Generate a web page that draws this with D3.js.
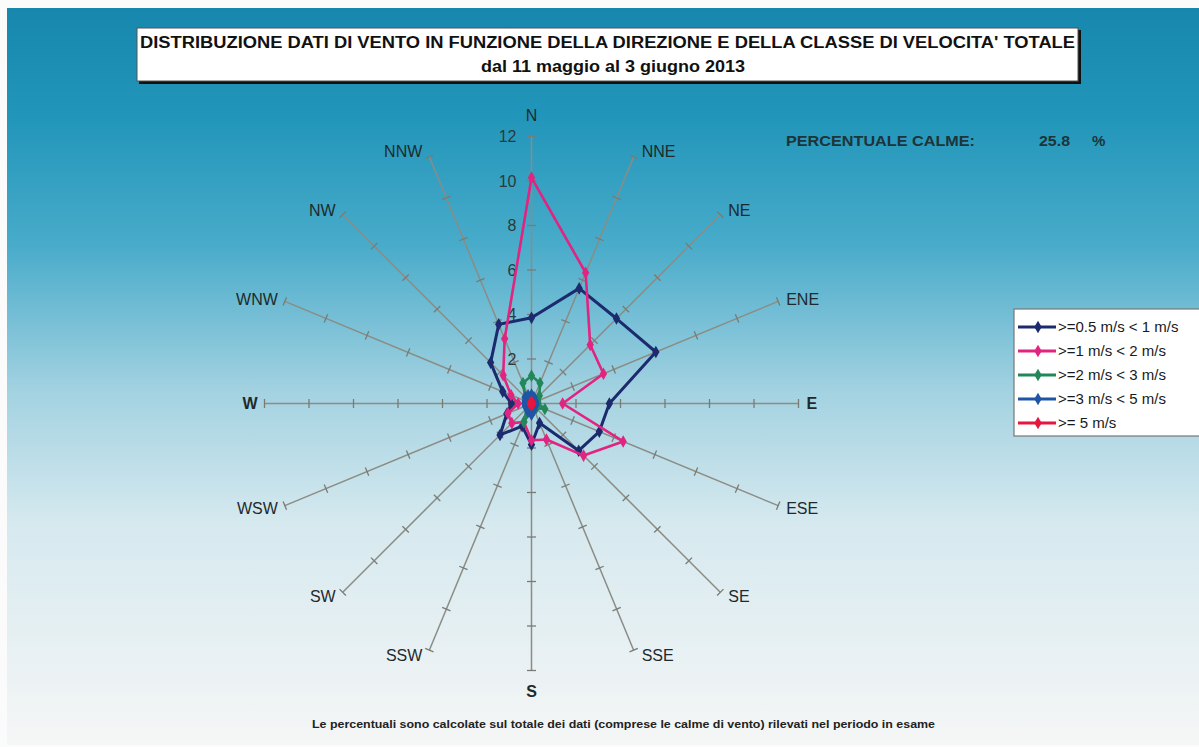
<!DOCTYPE html>
<html><head><meta charset="utf-8">
<script src="https://cdn.jsdelivr.net/npm/d3@7"></script>
<style>html,body{margin:0;padding:0;background:#fff;}svg{display:block;}</style>
</head><body>
<svg id="c" width="1199" height="747"></svg>
<script>
// ---------- DATA ----------
const directions = ["N","NNE","NE","ENE","E","ESE","SE","SSE","S","SSW","SW","WSW","W","WNW","NW","NNW"];
const radialTicks = [0,2,4,6,8,10,12];
const seriesNames = [">=0.5 m/s < 1 m/s", ">=1 m/s < 2 m/s", ">=2 m/s < 3 m/s", ">=3 m/s < 5 m/s", ">= 5 m/s"];
const s05to1 = [3.85,5.6,5.4,6.05,3.5,3.3,3.0,0.95,1.85,1.1,2.0,1.2,0.9,1.4,2.6,3.85];
const s1to2  = [10.15,6.36,3.73,3.5,1.4,4.46,3.31,1.75,1.65,0.9,1.25,1.15,0.6,1.0,1.8,3.15];
const s2to3  = [1.25,1.0,0.5,0.3,0.3,0.65,0.3,0.3,0.3,0.9,0.3,0.2,0.2,0.3,0.4,1.0];
const s3to5  = [0.4,0.3,0.2,0.2,0.2,0.2,0.2,0.3,0.5,0.4,0.3,0.3,0.3,0.3,0.4,0.4];
const s5plus = [0.05,0.05,0.05,0.05,0.05,0.05,0.05,0.05,0.05,0.05,0.05,0.05,0.05,0.05,0.05,0.05];
const seriesColors = ["#1c2a6e","#e2237f","#23875a","#1f55a5","#e5173f"];
const titleLine1 = "DISTRIBUZIONE DATI DI VENTO IN FUNZIONE DELLA DIREZIONE E DELLA CLASSE DI VELOCITA' TOTALE";
const titleLine2 = "dal 11 maggio al 3 giugno 2013";
const calmLabel = "PERCENTUALE CALME:";
const calmValue = "25.8";
const footNote = "Le percentuali sono calcolate sul totale dei dati (comprese le calme di vento) rilevati nel periodo in esame";

const allSeries = [s05to1, s1to2, s2to3, s3to5, s5plus];

// ---------- DRAW ----------
const svg = d3.select("#c");
const W = 1199, H = 747;
const defs = svg.append("defs");
const grad = defs.append("linearGradient").attr("id","bg").attr("x1",0).attr("y1",0).attr("x2",0).attr("y2",1);
[["0%","#1787ad"],["15%","#2296ba"],["32%","#48abca"],["52%","#a3d2e1"],["70%","#d6e9ef"],["100%","#f5f6f6"]]
  .forEach(([o,c])=>grad.append("stop").attr("offset",o).attr("stop-color",c));

svg.append("rect").attr("width",W).attr("height",H).attr("fill","#fbfbfb");
svg.append("rect").attr("x",7).attr("y",8).attr("width",W-7).attr("height",H-10).attr("fill","url(#bg)");

// title box
svg.append("rect").attr("x",139).attr("y",30).attr("width",942).attr("height",54).attr("fill","#111");
svg.append("rect").attr("x",137).attr("y",28).attr("width",941).attr("height",53).attr("fill","#fff").attr("stroke","#555").attr("stroke-width",1);
svg.append("text").attr("x",140).attr("y",48).attr("textLength",935).attr("lengthAdjust","spacingAndGlyphs")
  .attr("font-family","Liberation Sans, Arial, sans-serif").attr("font-weight","bold").attr("font-size",16).attr("fill","#111").text(titleLine1);
svg.append("text").attr("x",481).attr("y",72).attr("textLength",264).attr("lengthAdjust","spacingAndGlyphs")
  .attr("font-family","Liberation Sans, Arial, sans-serif").attr("font-weight","bold").attr("font-size",16).attr("fill","#111").text(titleLine2);

// calm text
const calmG = svg.append("g").attr("font-family","Liberation Sans, Arial, sans-serif").attr("font-weight","bold").attr("font-size",15).attr("fill","#1d3438");
calmG.append("text").attr("x",786).attr("y",146).attr("textLength",189).attr("lengthAdjust","spacingAndGlyphs").text(calmLabel);
calmG.append("text").attr("x",1039).attr("y",146).attr("textLength",31).attr("lengthAdjust","spacingAndGlyphs").text(calmValue);
calmG.append("text").attr("x",1092).attr("y",146).text("%");

// radar
const cx = 531.5, cy = 403.5;
const r = d3.scaleLinear().domain([0,12]).range([0,267]);
const ang = d3.scaleLinear().domain([0,directions.length]).range([0,2*Math.PI]);
const g = svg.append("g").attr("transform",`translate(${cx},${cy})`);
const pt = (i,v)=>[Math.sin(ang(i))*r(v), -Math.cos(ang(i))*r(v)];

// axes
directions.forEach((d,i)=>{
  const a = ang(i);
  const [ex,ey] = pt(i,12);
  g.append("line").attr("x1",0).attr("y1",0).attr("x2",ex).attr("y2",ey).attr("stroke","#8b8c84").attr("stroke-width",1.5);
  radialTicks.slice(1).forEach(t=>{
    const [tx,ty] = pt(i,t);
    const px = Math.cos(a)*4.5, py = Math.sin(a)*4.5;
    g.append("line").attr("x1",tx-px).attr("y1",ty-py).attr("x2",tx+px).attr("y2",ty+py).attr("stroke","#7a7b74").attr("stroke-width",1.3);
  });
});

// direction labels
const labG = g.append("g").attr("font-family","Liberation Sans, Arial, sans-serif").attr("font-size",16).attr("fill","#1e2a2c");
directions.forEach((d,i)=>{
  const a = ang(i);
  const [ex,ey] = pt(i,12);
  const sx = Math.sin(a), cyy = -Math.cos(a);
  let x, y, anchor;
  if (Math.abs(sx) < 0.01) { x = ex; y = ey + (cyy<0 ? -21 : 21); anchor = "middle"; }
  else { anchor = sx>0 ? "start" : "end"; x = ex + (sx>0 ? 8 : -7); y = ey + cyy*6; }
  labG.append("text").attr("x",x).attr("y",y).attr("dy","0.36em").attr("text-anchor",anchor)
    .attr("font-weight", (d==="S"||d==="W"||d==="E") ? "bold" : "normal").text(d);
});

// radial tick labels
const tl = g.append("g").attr("font-family","Liberation Sans, Arial, sans-serif").attr("font-size",16).attr("fill","#2b3a3c");
radialTicks.forEach(t=>{
  tl.append("text").attr("x",-15).attr("y",-r(t)).attr("dy","0.36em").attr("text-anchor","end").text(t);
});

// series
const line = d3.lineRadial().angle((d,i)=>ang(i)).radius(d=>r(d)).curve(d3.curveLinearClosed);
const diamond = d3.symbol().type(d3.symbolDiamond).size(46);
allSeries.forEach((s,k)=>{
  const sg = g.append("g");
  sg.append("path").attr("d",line(s)).attr("fill","none").attr("stroke",seriesColors[k])
    .attr("stroke-width", k===0||k===3 ? 3 : 2.6).attr("stroke-linejoin","round");
  s.forEach((v,i)=>{
    const [x,y] = pt(i,v);
    sg.append("path").attr("d",diamond).attr("transform",`translate(${x},${y})`).attr("fill",seriesColors[k]);
  });
});

// legend
const lg = svg.append("g");
lg.append("rect").attr("x",1014).attr("y",309).attr("width",190).attr("height",127).attr("fill","#fff").attr("stroke","#777").attr("stroke-width",1.2);
const ly = d3.scalePoint().domain(seriesNames).range([327,423]);
seriesNames.forEach((n,k)=>{
  const y = ly(n);
  lg.append("line").attr("x1",1018).attr("x2",1056).attr("y1",y).attr("y2",y).attr("stroke",seriesColors[k]).attr("stroke-width",3);
  lg.append("path").attr("d",diamond).attr("transform",`translate(1038,${y})`).attr("fill",seriesColors[k]);
  lg.append("text").attr("x",1058).attr("y",y).attr("dy","0.36em").attr("font-family","Liberation Sans, Arial, sans-serif")
    .attr("font-size",15).attr("fill","#1a1a1a").text(n);
});

// footnote
svg.append("text").attr("x",312).attr("y",728).attr("textLength",623).attr("lengthAdjust","spacingAndGlyphs")
  .attr("font-family","Liberation Sans, Arial, sans-serif").attr("font-weight","bold").attr("font-size",11).attr("fill","#222").text(footNote);
</script>
</body></html>
